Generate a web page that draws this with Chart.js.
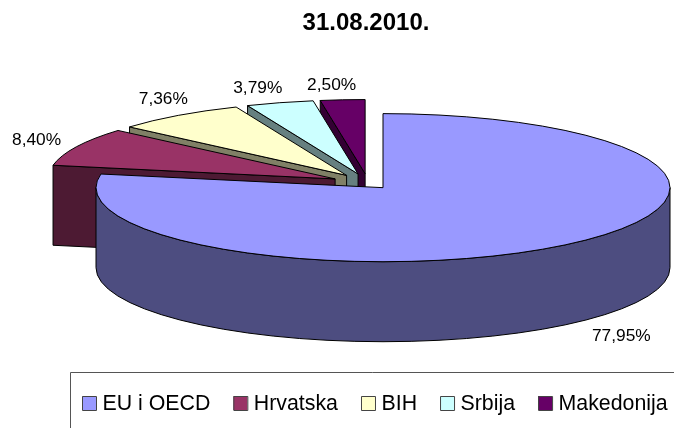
<!DOCTYPE html>
<html>
<head>
<meta charset="utf-8">
<title>31.08.2010.</title>
<script src="https://cdn.jsdelivr.net/npm/chart.js@4/dist/chart.umd.min.js"></script>
<style>
  html, body { margin: 0; padding: 0; background: #fff; }
  canvas { display: block; }
</style>
</head>
<body>
<canvas id="chartPie" width="674" height="428"></canvas>
<script>
(function() {
  'use strict';

  const categories = ['EU i OECD', 'Hrvatska', 'BIH', 'Srbija', 'Makedonija'];
  const shares = [77.95, 8.40, 7.36, 3.79, 2.50];
  const shareLabels = ['77,95%', '8,40%', '7,36%', '3,79%', '2,50%'];
  const topColors = ['#9999FF', '#993366', '#FFFFCC', '#CCFFFF', '#660066'];
  const sideColors = ['#4D4D80', '#4D1A33', '#808066', '#668080', '#330033'];

  // Izgled 3D torte
  const PIE_X = 368;
  const PIE_Y = 183;
  const RADIUS = 287;
  const TILT = 0.258;
  const DEPTH = 80;
  const FONT = '"Liberation Sans", Arial, sans-serif';

  const explode = [23.5, 36.5, 36.5, 36.5, 36.5];
  const labelNudge = [[55, 92], [-40, -7], [-15, -16], [-22, -14], [-11, -15]];

  function drawSlice(ctx, arc, i) {
    const a = arc.startAngle;
    const b = arc.endAngle;
    const mid = (a + b) / 2;
    const x = PIE_X + Math.cos(mid) * explode[i];
    const y = PIE_Y + Math.sin(mid) * explode[i] * TILT;
    const px = t => x + Math.cos(t) * RADIUS;
    const py = t => y + Math.sin(t) * RADIUS * TILT;

    ctx.fillStyle = sideColors[i];
    // rezovi: crta se samo onaj koji gleda prema nama
    const cuts = [];
    if (Math.cos(a) < 0) cuts.push(a);
    if (Math.cos(b) > 0) cuts.push(b);
    cuts.forEach(t => {
      ctx.beginPath();
      ctx.moveTo(x, y);
      ctx.lineTo(px(t), py(t));
      ctx.lineTo(px(t), py(t) + DEPTH);
      ctx.lineTo(x, y + DEPTH);
      ctx.closePath();
      ctx.fill();
      ctx.stroke();
    });

    // pred nama je samo donja polovina ruba
    const from = Math.max(a, 0);
    const to = Math.min(b, Math.PI);
    if (to > from) {
      ctx.beginPath();
      ctx.ellipse(x, y, RADIUS, RADIUS * TILT, 0, from, to);
      ctx.ellipse(x, y + DEPTH, RADIUS, RADIUS * TILT, 0, to, from, true);
      ctx.closePath();
      ctx.fill();
      ctx.stroke();
    }

    ctx.fillStyle = topColors[i];
    ctx.beginPath();
    ctx.moveTo(x, y);
    ctx.ellipse(x, y, RADIUS, RADIUS * TILT, 0, a, b);
    ctx.closePath();
    ctx.fill();
    ctx.stroke();
  }

  function drawShareLabel(ctx, arc, i) {
    const mid = (arc.startAngle + arc.endAngle) / 2;
    const x = PIE_X + Math.cos(mid) * (explode[i] + RADIUS);
    const y = PIE_Y + Math.sin(mid) * (explode[i] + RADIUS) * TILT;
    ctx.fillText(shareLabels[i], x + labelNudge[i][0], y + labelNudge[i][1]);
  }

  function drawLegend(ctx) {
    ctx.strokeStyle = '#555';
    ctx.lineWidth = 1;
    ctx.beginPath();
    ctx.moveTo(70.5, 428);
    ctx.lineTo(70.5, 372.5);
    ctx.lineTo(674, 372.5);
    ctx.stroke();

    ctx.font = '21.33px ' + FONT;
    ctx.textAlign = 'left';
    ctx.textBaseline = 'middle';
    let x = 82;
    categories.forEach((name, i) => {
      ctx.fillStyle = topColors[i];
      ctx.fillRect(x, 396, 14, 14);
      ctx.strokeStyle = '#444';
      ctx.strokeRect(x + 0.5, 396.5, 14, 14);
      ctx.fillStyle = '#000';
      ctx.fillText(name, x + 20.5, 404);
      x += 20.5 + ctx.measureText(name).width + 23;
    });
  }

  const pie3d = {
    id: 'pie3d',
    beforeDatasetDraw(chart, args) {
      const ctx = chart.ctx;
      const arcs = args.meta.data;
      ctx.save();
      ctx.strokeStyle = '#000';
      ctx.lineWidth = 1;
      ctx.lineJoin = 'round';
      // od zadnjih kriski prema prednjoj
      for (let i = arcs.length - 1; i >= 0; i--) {
        drawSlice(ctx, arcs[i], i);
      }
      ctx.fillStyle = '#000';
      ctx.font = '17.33px ' + FONT;
      ctx.textAlign = 'center';
      ctx.textBaseline = 'middle';
      arcs.forEach((arc, i) => drawShareLabel(ctx, arc, i));
      drawLegend(ctx);
      ctx.restore();
      return false;
    }
  };

  new Chart(document.getElementById('chartPie'), {
    type: 'pie',
    data: {
      labels: categories,
      datasets: [{
        data: shares,
        backgroundColor: topColors,
        borderWidth: 0
      }]
    },
    options: {
      responsive: false,
      animation: false,
      layout: { padding: { left: 58 } },
      plugins: {
        legend: { display: false },
        tooltip: { enabled: false },
        title: {
          display: true,
          text: '31.08.2010.',
          color: '#000',
          font: { family: FONT, size: 24, weight: 'bold' },
          padding: { top: 9, bottom: 0 }
        }
      }
    },
    plugins: [pie3d]
  });
})();
</script>
</body>
</html>
